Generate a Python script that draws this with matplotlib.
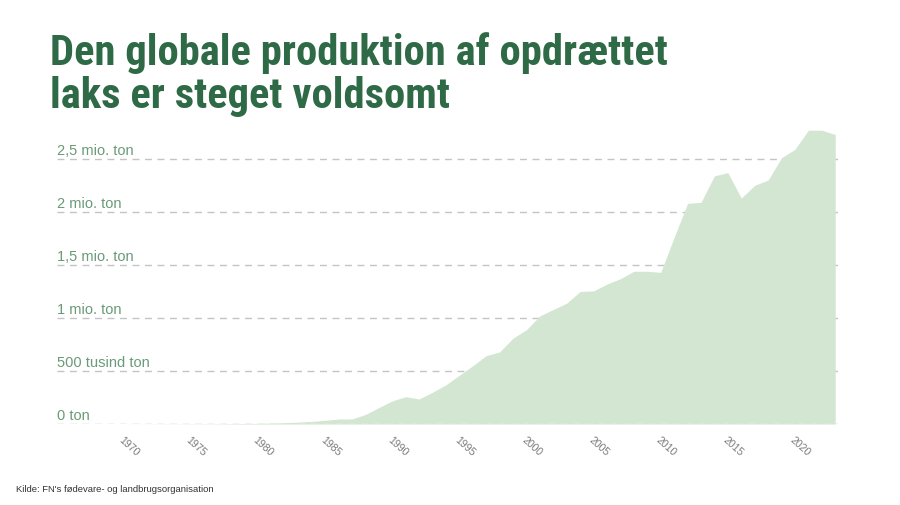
import matplotlib
matplotlib.use("Agg")
import matplotlib.pyplot as plt

# ---- data (million tonnes, farmed salmon) ----
years = list(range(1965, 2024))
values = [0.0, 0.0, 0.0, 0.0, 0.0,
          0.0003, 0.0005, 0.001, 0.0015, 0.0018,
          0.002, 0.0025, 0.003, 0.004, 0.005,
          0.006, 0.009, 0.013, 0.018, 0.025,
          0.035, 0.047, 0.048, 0.09, 0.155,
          0.218, 0.258, 0.236, 0.30, 0.37,
          0.46, 0.55, 0.645, 0.68, 0.81,
          0.89, 1.02, 1.08, 1.14, 1.25,
          1.255, 1.32, 1.37, 1.44, 1.44,
          1.43, 1.76, 2.08, 2.09, 2.34,
          2.37, 2.13, 2.25, 2.30, 2.51,
          2.59, 2.77, 2.77, 2.73]
tick_years = [1970, 1975, 1980, 1985, 1990, 1995, 2000, 2005, 2010, 2015, 2020]
y_ticks = [0, 0.5, 1.0, 1.5, 2.0, 2.5]
y_labels = ["0 ton", "500 tusind ton", "1 mio. ton", "1,5 mio. ton", "2 mio. ton", "2,5 mio. ton"]

title = "Den globale produktion af opdrættet\nlaks er steget voldsomt"
source = "Kilde: FN's fødevare- og landbrugsorganisation"

title_fonts = ["Roboto Condensed", "PT Sans Narrow", "Liberation Sans Narrow", "Liberation Sans", "DejaVu Sans"]
body_font = ["Liberation Sans", "DejaVu Sans"]

fig = plt.figure(figsize=(9, 5.06), dpi=100)
ax = fig.add_axes([0.063, 0.160, 0.868, 0.587])

area_color = "#d3e6d2"
grid_color = "#c4c4c4"

ax.fill_between(years, values, 0, color=area_color, lw=0, zorder=2)
for v in y_ticks:
    ax.axhline(v, color=grid_color, lw=1, ls=(0, (5, 4)), zorder=1)
# light dashes visible across the area baseline
ax.plot([1983, 2023], [0, 0], color="#f4f8f3", lw=1, ls=(0, (5, 4)), zorder=3)

ax.set_xlim(1965, 2023.2)
ax.set_ylim(0, 2.8)
for s in ax.spines.values():
    s.set_visible(False)
ax.set_yticks([])
ax.set_xticks(tick_years)
ax.set_xticklabels([str(y) for y in tick_years], rotation=-42, ha="left", va="top",
                   rotation_mode="anchor", fontsize=7.6, color="#7a7a7a", family=body_font)
ax.tick_params(axis="x", length=0, pad=7.5)

for v, lab in zip(y_ticks, y_labels):
    ax.annotate(lab, xy=(0, v), xycoords=("axes fraction", "data"),
                xytext=(0, 1.5), textcoords="offset points", ha="left", va="bottom",
                fontsize=10.5, color="#6a9a77", family=body_font)

t = fig.text(50 / 900, 1 - 32 / 506, title, ha="left", va="top", fontsize=30,
             fontweight="bold", color="#2e6a46", family=title_fonts, linespacing=1.08)
# fit the title width to the reference (about 618 px for the first line)
fig.canvas.draw()
w = t.get_window_extent().width
t.set_fontsize(30 * 618.0 / w)

fig.text(16 / 900, 1 - 490 / 506, source, ha="left", va="center", fontsize=6.8,
         color="#333333", family=body_font)

fig.savefig("out.png", dpi=100)
